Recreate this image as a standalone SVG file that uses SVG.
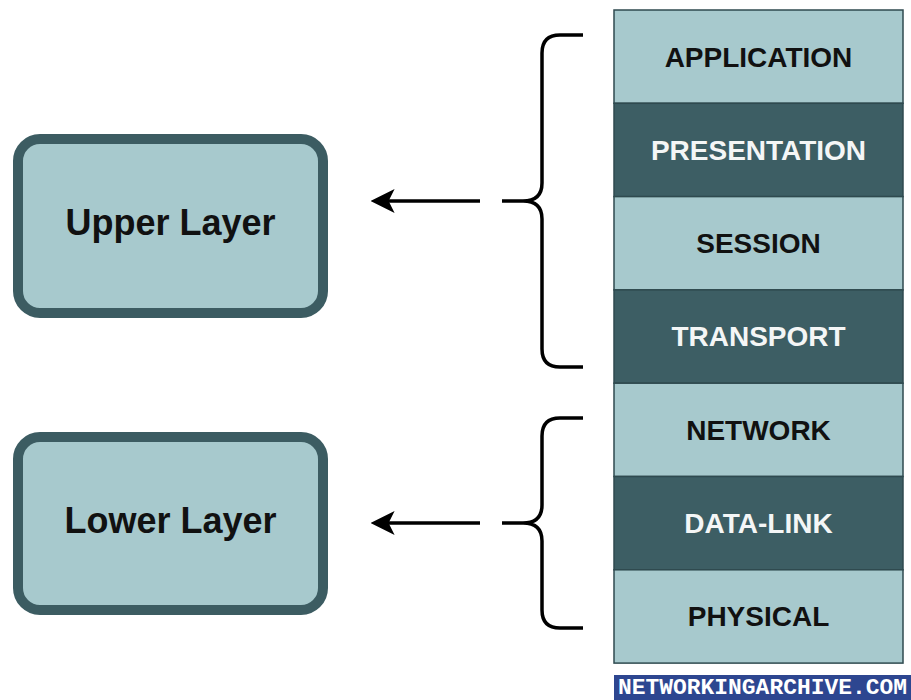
<svg xmlns="http://www.w3.org/2000/svg" width="911" height="700" viewBox="0 0 911 700">
<style>
.box{fill:#a7c9cd;stroke:#3c5c62;stroke-width:10}
.big{font-family:"Liberation Sans",Arial,sans-serif;font-weight:bold;font-size:36px;fill:#111;text-anchor:middle}
.light{fill:#a7c9cd;stroke:#2f4a4f;stroke-width:1.5}
.dark{fill:#3d5e64;stroke:#2f4a4f;stroke-width:1.5}
.lt{font-family:"Liberation Sans",Arial,sans-serif;font-weight:bold;font-size:28px;fill:#111;text-anchor:middle}
.dt{font-family:"Liberation Sans",Arial,sans-serif;font-weight:bold;font-size:28px;fill:#f4f6f6;text-anchor:middle}
.brace{fill:none;stroke:#000;stroke-width:3.5}
.arrow{fill:none;stroke:#000;stroke-width:3.5}
</style>
<defs>
<marker id="ah" viewBox="0 0 10 10" refX="4" refY="5" markerWidth="24" markerHeight="24" markerUnits="userSpaceOnUse" orient="auto-start-reverse">
<path d="M0,0 L10,5 L0,10 L2.5,5 Z" fill="#000"/>
</marker>
</defs>
<rect width="911" height="700" fill="#fff"/>
<g id="upper-layer">
<rect class="box" x="18" y="139" width="305" height="174" rx="22"/>
<text class="big" x="170.5" y="235">Upper Layer</text>
</g>
<g id="lower-layer">
<rect class="box" x="18" y="437" width="305" height="173" rx="22"/>
<text class="big" x="170.5" y="533">Lower Layer</text>
</g>
<g id="application"><rect class="light" x="614" y="10" width="289" height="93.3"/><text class="lt" x="758.5" y="67">APPLICATION</text></g>
<g id="presentation"><rect class="dark" x="614" y="103.3" width="289" height="93.3"/><text class="dt" x="758.5" y="160">PRESENTATION</text></g>
<g id="session"><rect class="light" x="614" y="196.6" width="289" height="93.3"/><text class="lt" x="758.5" y="253">SESSION</text></g>
<g id="transport"><rect class="dark" x="614" y="289.9" width="289" height="93.3"/><text class="dt" x="758.5" y="346">TRANSPORT</text></g>
<g id="network"><rect class="light" x="614" y="383.2" width="289" height="93.3"/><text class="lt" x="758.5" y="440">NETWORK</text></g>
<g id="data-link"><rect class="dark" x="614" y="476.5" width="289" height="93.3"/><text class="dt" x="758.5" y="533">DATA-LINK</text></g>
<g id="physical"><rect class="light" x="614" y="569.8" width="289" height="93.3"/><text class="lt" x="758.5" y="626">PHYSICAL</text></g>
<g id="connectors">
<path class="brace" d="M583,35 L560,35 Q542,35 542,53 L542,183 Q542,201 523,201 L502,201 M523,201 Q542,201 542,219 L542,349 Q542,367 560,367 L583,367"/>
<path class="brace" d="M583,418 L560,418 Q542,418 542,436 L542,505 Q542,523 523,523 L502,523 M523,523 Q542,523 542,541 L542,610 Q542,628 560,628 L583,628"/>
<line class="arrow" x1="480" y1="201" x2="385" y2="201" marker-end="url(#ah)"/>
<line class="arrow" x1="480" y1="523" x2="385" y2="523" marker-end="url(#ah)"/>
</g>
<g id="watermark">
<rect x="614" y="675" width="297" height="25" fill="#2d4690"/>
<text x="618" y="694" font-family="'Liberation Mono','Courier New',monospace" font-size="22" font-weight="bold" fill="#fff" textLength="289" lengthAdjust="spacingAndGlyphs">NETWORKINGARCHIVE.COM</text>
</g>
</svg>
